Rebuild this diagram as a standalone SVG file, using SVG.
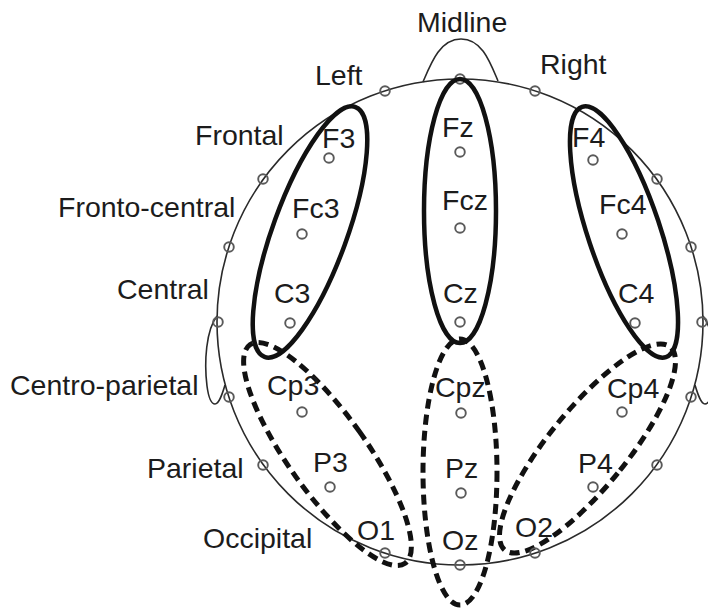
<svg xmlns="http://www.w3.org/2000/svg" width="708" height="611" viewBox="0 0 708 611">
  <style>
    .head { fill: none; stroke: #2a2a2a; stroke-width: 1.6; }
    .el { fill: none; stroke: #5a5a5a; stroke-width: 1.9; }
    .roi { fill: none; stroke: #111; stroke-width: 4.5; }
    .roi-d { fill: none; stroke: #111; stroke-width: 5; stroke-dasharray: 10 6; }
    text { font-family: "Liberation Sans", Arial, sans-serif; font-size: 28.5px; fill: #1c1c1c; }
  </style>

  <rect width="708" height="611" fill="#fff"/>

  <!-- head outline, nose and ears -->
  <g id="head">
    <circle class="head" cx="460" cy="322" r="243"/>
    <path class="head" d="M423,82 C431,63 440,39 461,39 C482,39 490,62 498,81"/>
    <path class="head" d="M217,316 C206,330 204,362 207,386 C209,401 212,404 215,404 C219,404 222,395 225,385"/>
    <path class="head" d="M703,316 C714,330 716,362 713,386 C711,401 708,404 705,404 C701,404 698,395 695,385"/>
  </g>

  <!-- electrodes on the head outline -->
  <g id="rim-electrodes">
    <circle class="el" cx="460" cy="79" r="4.8"/>
    <circle class="el" cx="385" cy="91" r="4.8"/>
    <circle class="el" cx="535" cy="91" r="4.8"/>
    <circle class="el" cx="263" cy="179" r="4.8"/>
    <circle class="el" cx="657" cy="179" r="4.8"/>
    <circle class="el" cx="229" cy="247" r="4.8"/>
    <circle class="el" cx="691" cy="247" r="4.8"/>
    <circle class="el" cx="218" cy="322" r="4.8"/>
    <circle class="el" cx="702" cy="322" r="4.8"/>
    <circle class="el" cx="229" cy="397" r="4.8"/>
    <circle class="el" cx="691" cy="397" r="4.8"/>
    <circle class="el" cx="263" cy="465" r="4.8"/>
    <circle class="el" cx="657" cy="465" r="4.8"/>
  </g>

  <!-- regions of interest -->
  <g id="regions">
    <ellipse id="roi-left-front" class="roi" cx="310" cy="232" rx="37" ry="133" transform="rotate(20 310 232)"/>
    <ellipse id="roi-mid-front" class="roi" cx="460" cy="211" rx="36" ry="132"/>
    <ellipse id="roi-right-front" class="roi" cx="624" cy="232" rx="36" ry="132" transform="rotate(-18.5 624 232)"/>
    <ellipse id="roi-left-back" class="roi-d" cx="327.5" cy="454" rx="39" ry="134" transform="rotate(-35.4 327.5 454)"/>
    <ellipse id="roi-mid-back" class="roi-d" cx="460" cy="472" rx="37" ry="133"/>
    <ellipse id="roi-right-back" class="roi-d" cx="587.5" cy="448.5" rx="39" ry="131" transform="rotate(39.1 587.5 448.5)"/>
  </g>

  <!-- labelled electrodes -->
  <g id="F3"><circle class="el" cx="329" cy="158" r="4.8"/><text x="322" y="148">F3</text></g>
  <g id="Fc3"><circle class="el" cx="302" cy="234" r="4.8"/><text x="292" y="218">Fc3</text></g>
  <g id="C3"><circle class="el" cx="290" cy="323" r="4.8"/><text x="274" y="303">C3</text></g>
  <g id="Cp3"><circle class="el" cx="302" cy="412" r="4.8"/><text x="267" y="395">Cp3</text></g>
  <g id="P3"><circle class="el" cx="330" cy="487" r="4.8"/><text x="313" y="472">P3</text></g>
  <g id="O1"><circle class="el" cx="385" cy="553" r="4.8"/><text x="357" y="540">O1</text></g>

  <g id="Fz"><circle class="el" cx="460" cy="152" r="4.8"/><text x="442" y="137">Fz</text></g>
  <g id="Fcz"><circle class="el" cx="460" cy="228" r="4.8"/><text x="442" y="210">Fcz</text></g>
  <g id="Cz"><circle class="el" cx="460" cy="322" r="4.8"/><text x="443" y="303">Cz</text></g>
  <g id="Cpz"><circle class="el" cx="461" cy="413" r="4.8"/><text x="435" y="397">Cpz</text></g>
  <g id="Pz"><circle class="el" cx="461" cy="493" r="4.8"/><text x="445" y="478">Pz</text></g>
  <g id="Oz"><circle class="el" cx="460" cy="565" r="4.8"/><text x="442" y="550">Oz</text></g>

  <g id="F4"><circle class="el" cx="593" cy="160" r="4.8"/><text x="572" y="147">F4</text></g>
  <g id="Fc4"><circle class="el" cx="622" cy="234" r="4.8"/><text x="599" y="214">Fc4</text></g>
  <g id="C4"><circle class="el" cx="635" cy="323" r="4.8"/><text x="618" y="303">C4</text></g>
  <g id="Cp4"><circle class="el" cx="622" cy="412" r="4.8"/><text x="607" y="398">Cp4</text></g>
  <g id="P4"><circle class="el" cx="593" cy="487" r="4.8"/><text x="578" y="473">P4</text></g>
  <g id="O2"><circle class="el" cx="535" cy="553" r="4.8"/><text x="515" y="537">O2</text></g>

  <!-- scalp area labels -->
  <g id="labels">
    <text x="417" y="32">Midline</text>
    <text x="315" y="85">Left</text>
    <text x="540" y="74">Right</text>
    <text x="195" y="145">Frontal</text>
    <text x="58" y="217">Fronto-central</text>
    <text x="117" y="299">Central</text>
    <text x="10" y="395">Centro-parietal</text>
    <text x="147" y="478">Parietal</text>
    <text x="203" y="548">Occipital</text>
  </g>
</svg>
